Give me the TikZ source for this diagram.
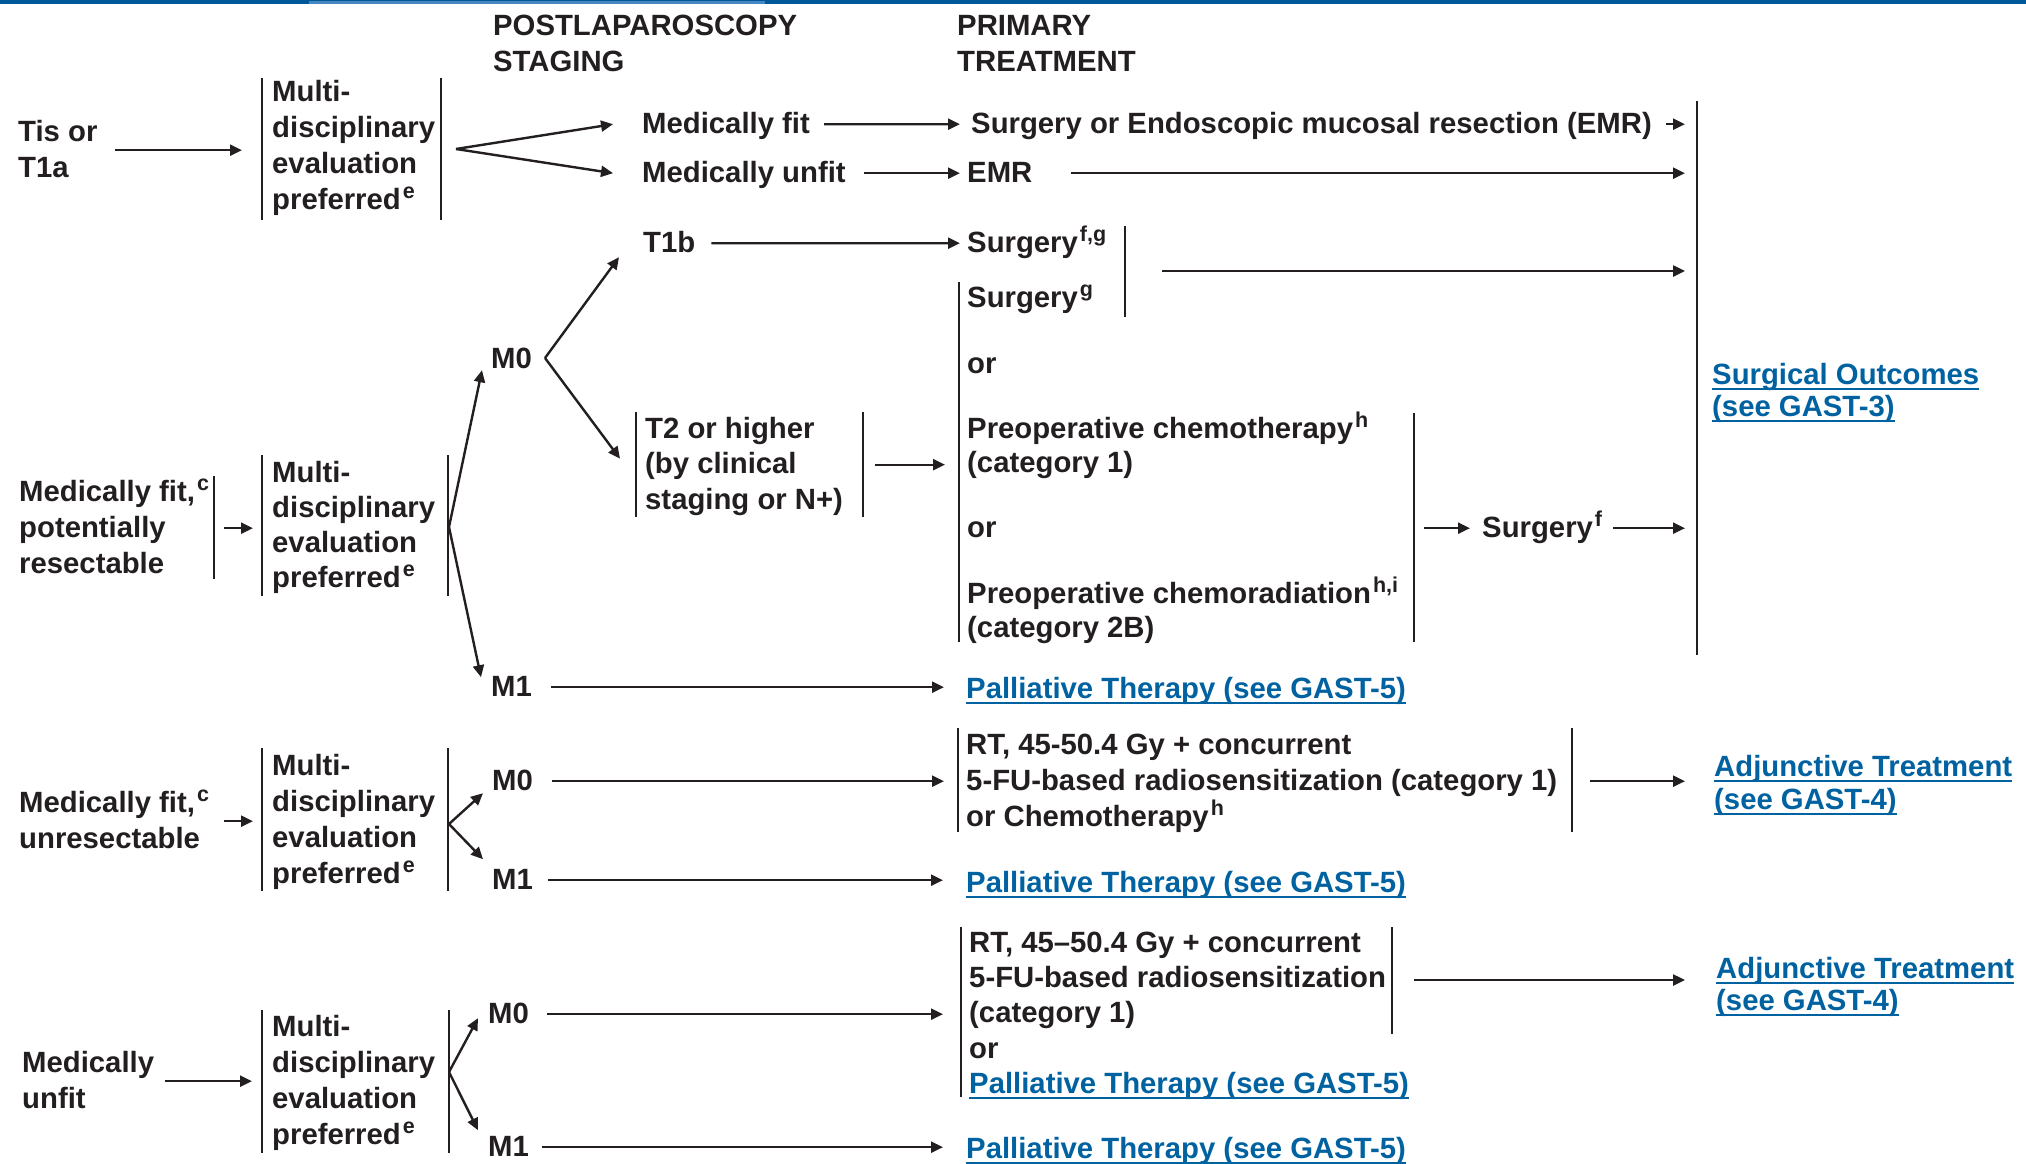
\documentclass[tikz,border=0pt]{standalone}
\usepackage{fontspec}
\setmainfont{Liberation Sans}
\usetikzlibrary{arrows.meta,calc}
\definecolor{ink}{RGB}{35,31,32}
\definecolor{lnk}{RGB}{0,98,160}
\definecolor{rulea}{RGB}{0,88,152}
\definecolor{ruleb}{RGB}{70,135,195}
\newcommand\sx{\rule[-6.2pt]{0pt}{30.4pt}}
\newcommand\supx[1]{\kern2pt\smash{\raisebox{11pt}{\fontsize{21.5}{21.5}\selectfont #1}}}
\newcommand\lnkline[1]{{\color{lnk}\setbox0\hbox{#1}\rlap{\rule[-5.5pt]{\wd0}{2.2pt}}\box0}}
\begin{document}
\begin{tikzpicture}[x=1pt,y=-1pt,
  txt/.style={anchor=north west,yshift=24.2pt,xshift=2pt,inner sep=0pt,align=left,text=ink,font=\fontsize{29.3}{36}\selectfont\bfseries},
  ls/.style={font=\fontsize{29.3}{#1}\selectfont\bfseries},
  arr/.style={draw=ink,line width=2.4pt,-{Triangle[length=12pt,width=11pt]}},
  bar/.style={draw=ink,line width=2pt},
]
\useasboundingbox (0,0) rectangle (2026,1164);
\fill[white] (0,0) rectangle (2026,1164);
\fill[rulea] (0,0) rectangle (2026,4);
\fill[ruleb] (309,1) rectangle (765,4);

% headers
\node[txt] (hdrA) at (491,35) {\sx POSTLAPAROSCOPY\\\sx STAGING};
\node[txt] (hdrB) at (955,35) {\sx PRIMARY\\\sx TREATMENT};

% row 1
\node[txt] (tis) at (16,141) {\sx Tis or\\\sx T1a};
\node[txt] (boxA) at (270,101) {\sx Multi-\\\sx disciplinary\\\sx evaluation\\\sx preferred\supx{e}};
\node[txt] (fit) at (640,133) {\sx Medically fit};
\node[txt] (unfit) at (640,182) {\sx Medically unfit};
\node[txt] (surgemr) at (969,133) {\sx Surgery or Endoscopic mucosal resection (EMR)};
\node[txt] (emr) at (965,182) {\sx EMR};

% row 2
\node[txt] (t1b) at (641,252) {\sx T1b};
\node[txt] (surgfg) at (965,252) {\sx Surgery\supx{f,g}};
\node[txt] (surgg) at (965,307) {\sx Surgery\supx{g}};
\node[txt] (orA) at (965,373) {\sx or};
\node[txt,ls=34] (chemo) at (965,438) {\sx Preoperative chemotherapy\supx{h}\\\sx (category 1)};
\node[txt] (orB) at (965,537) {\sx or};
\node[txt,ls=34] (chemorad) at (965,603) {\sx Preoperative chemoradiation\supx{h,i}\\\sx (category 2B)};
\node[txt] (surgf) at (1480,537) {\sx Surgery\supx{f}};
\node[txt,ls=32] (outc) at (1710,384) {\sx\lnkline{Surgical Outcomes}\\\sx\lnkline{(see GAST-3)}};
\node[txt] (resA) at (17,501) {\sx Medically fit,\supx{c}\\\sx potentially\\\sx resectable};
\node[txt,ls=35] (boxB) at (270,482) {\sx Multi-\\\sx disciplinary\\\sx evaluation\\\sx preferred\supx{e}};
\node[txt] (m0a) at (489,368) {\sx M0};
\node[txt,ls=35.5] (t2) at (643,438) {\sx T2 or higher\\\sx (by clinical\\\sx staging or N+)};
\node[txt] (m1a) at (489,696) {\sx M1};
\node[txt] (palA) at (964,698) {\sx\lnkline{Palliative Therapy (see GAST-5)}};

% row 3
\node[txt] (unresA) at (17,812) {\sx Medically fit,\supx{c}\\\sx unresectable};
\node[txt] (boxC) at (270,775) {\sx Multi-\\\sx disciplinary\\\sx evaluation\\\sx preferred\supx{e}};
\node[txt] (m0b) at (490,790) {\sx M0};
\node[txt] (m1b) at (490,889) {\sx M1};
\node[txt] (rtA) at (964,754) {\sx RT, 45-50.4 Gy + concurrent\\\sx 5-FU-based radiosensitization (category 1)\\\sx or Chemotherapy\supx{h}};
\node[txt,ls=33] (adjA) at (1712,776) {\sx\lnkline{Adjunctive Treatment}\\\sx\lnkline{(see GAST-4)}};
\node[txt] (palB) at (964,892) {\sx\lnkline{Palliative Therapy (see GAST-5)}};

% row 4
\node[txt] (unfitB) at (20,1072) {\sx Medically\\\sx unfit};
\node[txt] (boxD) at (270,1036) {\sx Multi-\\\sx disciplinary\\\sx evaluation\\\sx preferred\supx{e}};
\node[txt] (m0c) at (486,1023) {\sx M0};
\node[txt] (m1c) at (486,1156) {\sx M1};
\node[txt,ls=35.3] (rtB) at (967,952) {\sx RT, 45–50.4 Gy + concurrent\\\sx 5-FU-based radiosensitization\\\sx (category 1)\\\sx or\\\sx\lnkline{Palliative Therapy (see GAST-5)}};
\node[txt,ls=32] (adjB) at (1714,978) {\sx\lnkline{Adjunctive Treatment}\\\sx\lnkline{(see GAST-4)}};
\node[txt] (palC) at (964,1158) {\sx\lnkline{Palliative Therapy (see GAST-5)}};

% junction coordinates
\coordinate (vA) at (456,149);
\coordinate (vB) at (449,527);
\coordinate (vC) at (545,358);
\coordinate (vD) at (449,824);
\coordinate (vE) at (449,1072);
\coordinate (endbar) at (1685,0);
\coordinate (fgbar) at (1125,271);
\coordinate (rtBbar) at (1392,980);

% bars
\draw[bar] (262,78) -- (262,220);
\draw[bar] (441,78) -- (441,220);
\draw[bar] (214,476) -- (214,579);
\draw[bar] (262,455) -- (262,596);
\draw[bar] (448,455) -- (448,596);
\draw[bar] (636,412) -- (636,517);
\draw[bar] (863,412) -- (863,517);
\draw[bar] (959,282) -- (959,642);
\draw[bar] (1125,226) -- (1125,317);
\draw[bar] (1414,413) -- (1414,642);
\draw[bar] (1697,101) -- (1697,655);
\draw[bar] (262,748) -- (262,891);
\draw[bar] (448,748) -- (448,891);
\draw[bar] (958,728) -- (958,832);
\draw[bar] (1572,728) -- (1572,832);
\draw[bar] (262,1010) -- (262,1153);
\draw[bar] (449,1010) -- (449,1153);
\draw[bar] (961,927) -- (961,1097);
\draw[bar] (1392,927) -- (1392,1034);

% connectors row 1
\draw[arr] ([xshift=17pt]tis.east) -- ([xshift=-30pt]boxA.west |- tis.east);
\draw[arr] (vA) -- ([xshift=-29pt]fit.west);
\draw[arr] (vA) -- ([xshift=-29pt]unfit.west);
\draw[arr] ([xshift=14pt]fit.east) -- ([xshift=-11pt]surgemr.west);
\draw[arr] ([xshift=14pt]surgemr.east) -- (endbar |- surgemr.east);
\draw[arr] ([xshift=18pt]unfit.east) -- ([xshift=-7pt]emr.west);
\draw[arr] ([xshift=38pt]emr.east) -- (endbar |- emr.east);

% row 2
\draw[arr] ($(boxB.west |- resA.east)+(-48,0)$) -- ($(boxB.west |- resA.east)+(-19,0)$);
\draw[arr] (vB) -- ([xshift=-9pt,yshift=-11pt]m0a.west);
\draw[arr] (vB) -- ([xshift=-10pt,yshift=10pt]m1a.west);
\draw[arr] (vC) -- ([xshift=-24pt,yshift=-14pt]t1b.west);
\draw[arr] (vC) -- ([xshift=-25pt,yshift=6pt]t2.west);
\draw[arr] ([xshift=16pt]t1b.east) -- ([xshift=-7pt]surgfg.west);
\draw[arr] ([xshift=37pt]fgbar) -- (endbar |- fgbar);
\draw[arr] ([xshift=32pt]t2.east) -- ([xshift=-22pt]chemo.west |- t2.east);
\draw[arr] ([xshift=-58pt]surgf.west) -- ([xshift=-12pt]surgf.west);
\draw[arr] ([xshift=11pt]surgf.east) -- (endbar |- surgf.east);
\draw[arr] ([xshift=19pt]m1a.east) -- ([xshift=-22pt]palA.west |- m1a.east);

% row 3
\draw[arr] ($(boxC.west |- unresA.east)+(-48,0)$) -- ($(boxC.west |- unresA.east)+(-19,0)$);
\draw[arr] (vD) -- ([xshift=-9pt,yshift=-12pt]m0b.west);
\draw[arr] (vD) -- ([xshift=-9pt,yshift=21pt]m1b.west);
\draw[arr] ([xshift=19pt]m0b.east) -- ([xshift=-22pt]rtA.west |- m0b.east);
\draw[arr] ([xshift=33pt]rtA.east) -- ([xshift=-29pt]adjA.west |- rtA.east);
\draw[arr] ([xshift=15pt]m1b.east) -- ([xshift=-23pt]palB.west |- m1b.east);

% row 4
\draw[arr] ([xshift=11pt]unfitB.east) -- ([xshift=-20pt]boxD.west |- unfitB.east);
\draw[arr] (vE) -- ([xshift=-10pt,yshift=-4pt]m0c.west);
\draw[arr] (vE) -- ([xshift=-10pt,yshift=17pt]m1c.west);
\draw[arr] ([xshift=18pt]m0c.east) -- ([xshift=-26pt]rtB.west |- m0c.east);
\draw[arr] ([xshift=22pt]rtBbar) -- ([xshift=-31pt]adjB.west |- rtBbar);
\draw[arr] ([xshift=13pt]m1c.east) -- ([xshift=-23pt]palC.west |- m1c.east);
\end{tikzpicture}
\end{document}
